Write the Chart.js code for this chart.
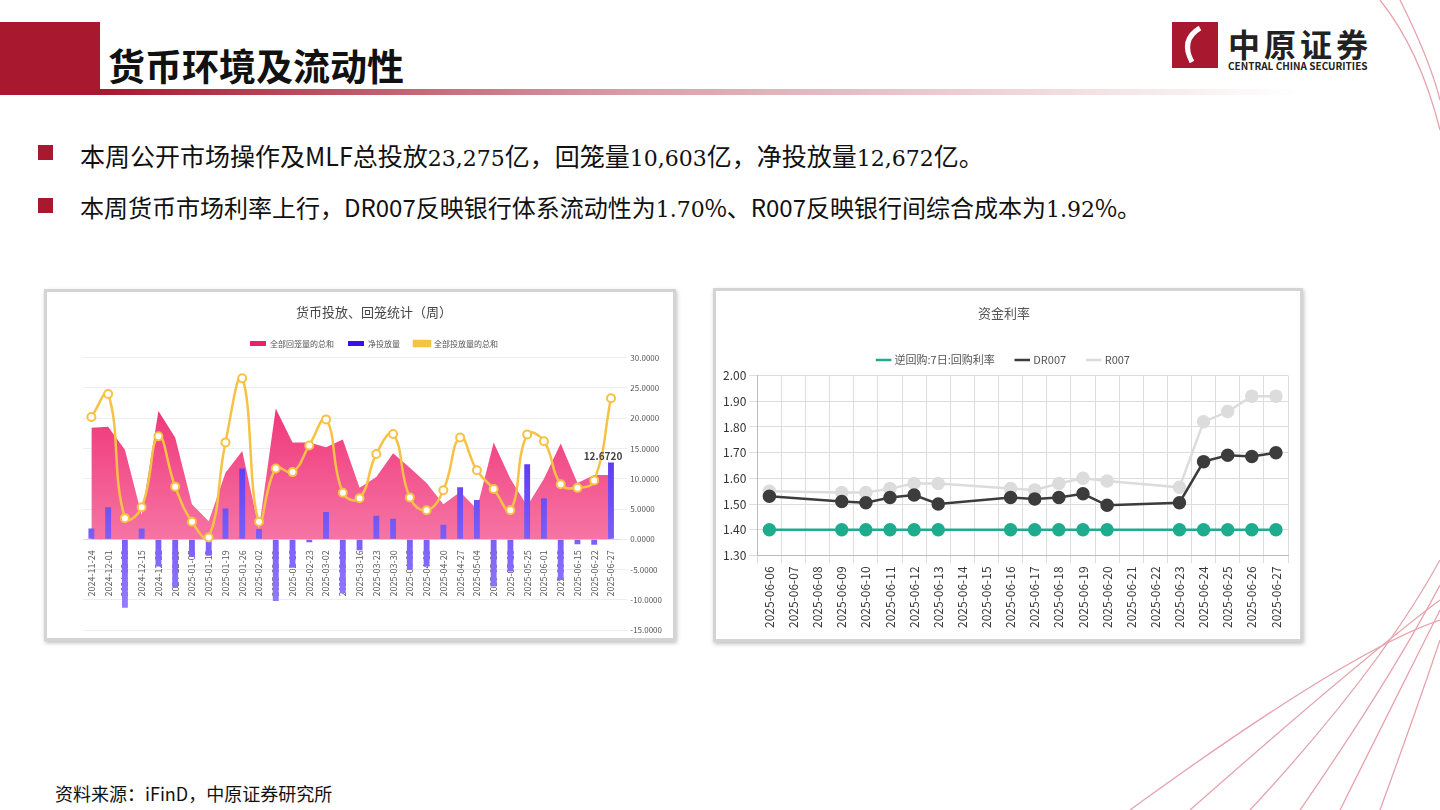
<!DOCTYPE html>
<html><head><meta charset="utf-8">
<script src="https://cdn.jsdelivr.net/npm/chart.js@4.4.1/dist/chart.umd.min.js"></script>
<style>
body{margin:0;width:1440px;height:810px;overflow:hidden;background:#fff;font-family:"Noto Sans CJK SC","Noto Sans",sans-serif;position:relative}
.abs{position:absolute}
.box{position:absolute;background:#fff;border:3px solid #d4d4d4;box-shadow:1px 2px 4px rgba(0,0,0,.25)}
.bul{position:absolute;left:38px;width:15px;height:15px;background:#a8182f}
.txt{position:absolute;left:80px;font-size:25px;color:#111;white-space:nowrap}
.num{font-family:"DejaVu Serif","Liberation Serif",serif;font-size:22px}
</style></head><body>
<svg class="abs" style="left:0;top:0" width="1440" height="810">
 <defs><linearGradient id="ul" x1="0" x2="1"><stop offset="0" stop-color="#a8182f"/><stop offset="0.45" stop-color="#d9a0aa"/><stop offset="1" stop-color="#fff"/></linearGradient></defs>
 <rect x="0" y="22" width="100" height="73" fill="#a8182f"/>
 <rect x="100" y="89" width="1200" height="6" fill="url(#ul)"/>
 <g fill="none" stroke="#e6a3ad" stroke-width="1.3">
  <path d="M1380 810 Q1420 700 1440 640"/><path d="M1340 810 Q1400 690 1440 610"/>
  <path d="M1300 810 Q1390 680 1440 585"/><path d="M1250 810 Q1380 670 1440 560"/>
  <path d="M1190 810 Q1360 660 1440 600"/><path d="M1130 810 Q1350 650 1440 620"/>
  <path d="M1400 0 Q1430 60 1440 100"/><path d="M1380 0 Q1420 50 1440 130"/>
 </g>
 <rect x="1172" y="22" width="46" height="46" fill="#a8182f"/>
 <path d="M1200 28 Q1180 40 1192 62" stroke="#fff" stroke-width="5" fill="none"/>
</svg>
<div class="abs" style="left:108px;top:38px;font-size:37px;font-weight:bold;color:#111">货币环境及流动性</div>
<div class="abs" style="left:1228px;top:20px;font-size:32px;font-weight:bold;color:#222;letter-spacing:4px">中原证券</div>
<div class="abs" style="left:1228px;top:58px;font-size:10px;font-weight:bold;color:#222">CENTRAL CHINA SECURITIES</div>
<div class="bul" style="top:145px"></div>
<div class="txt" style="top:137px">本周公开市场操作及MLF总投放<span class="num">23,275</span>亿，回笼量<span class="num">10,603</span>亿，净投放量<span class="num">12,672</span>亿。</div>
<div class="bul" style="top:198px"></div>
<div class="txt" style="top:189px;font-size:24px">本周货币市场利率上行，DR007反映银行体系流动性为<span class="num">1.70</span>%、R007反映银行间综合成本为<span class="num">1.92</span>%。</div>
<div class="abs" style="left:55px;top:780px;font-size:18px;color:#111">资料来源：iFinD，中原证券研究所</div>

<div class="box" style="left:44px;top:289px;width:626px;height:346px"><canvas id="c1" width="626" height="346"></canvas></div>
<div class="box" style="left:713px;top:288px;width:584px;height:348px"><canvas id="c2" width="584" height="348"></canvas></div>

<script>
var weeks = ['2024-11-24','2024-12-01','2024-12-08','2024-12-15','2024-12-22','2024-12-29','2025-01-05','2025-01-12','2025-01-19','2025-01-26','2025-02-02','2025-02-09','2025-02-16','2025-02-23','2025-03-02','2025-03-09','2025-03-16','2025-03-23','2025-03-30','2025-04-06','2025-04-13','2025-04-20','2025-04-27','2025-05-04','2025-05-11','2025-05-18','2025-05-25','2025-06-01','2025-06-08','2025-06-15','2025-06-22','2025-06-27'];
var withdrawn = [18.4,18.6,14.8,4.0,21.2,16.8,5.8,3.0,11.0,14.6,1.8,21.6,16.0,16.0,15.2,16.5,8.5,10.3,14.2,11.8,9.3,5.8,7.8,5.0,16.0,10.0,5.5,10.0,15.8,9.3,10.6,10.6];
var net = [1.8,5.3,-11.3,1.8,-4.5,-8.0,-2.9,-2.7,5.1,11.7,1.7,-10.2,-4.7,-0.5,4.5,-8.9,-1.8,3.9,3.4,-5.0,-4.5,2.4,8.6,6.5,-7.8,-5.3,12.4,6.8,-6.7,-0.8,-0.9,12.672];
var injected = [20.2,24.0,3.5,5.3,17.0,8.7,2.9,0.3,16.0,26.6,2.9,11.7,11.1,15.5,19.8,7.7,6.8,14.1,17.4,6.9,4.8,8.1,16.8,11.4,8.3,4.8,17.3,16.2,9.1,8.5,9.7,23.3];

var days = ['2025-06-06','2025-06-07','2025-06-08','2025-06-09','2025-06-10','2025-06-11','2025-06-12','2025-06-13','2025-06-14','2025-06-15','2025-06-16','2025-06-17','2025-06-18','2025-06-19','2025-06-20','2025-06-21','2025-06-22','2025-06-23','2025-06-24','2025-06-25','2025-06-26','2025-06-27'];
var repo7d = [1.40,null,null,1.40,1.40,1.40,1.40,1.40,null,null,1.40,1.40,1.40,1.40,1.40,null,null,1.40,1.40,1.40,1.40,1.40];
var dr007 = [1.53,null,null,1.51,1.505,1.525,1.535,1.50,null,null,1.525,1.52,1.525,1.54,1.495,null,null,1.505,1.665,1.69,1.685,1.70];
var r007 = [1.55,null,null,1.545,1.545,1.56,1.58,1.58,null,null,1.56,1.555,1.58,1.60,1.59,null,null,1.565,1.82,1.86,1.92,1.92];

var cjk = '"Noto Sans CJK SC", sans-serif';

function grad(ctx, area, top, bottom) {
  var g = ctx.createLinearGradient(0, area.top, 0, area.bottom);
  g.addColorStop(0, top); g.addColorStop(1, bottom);
  return g;
}

var lastLabel = {
  id: 'lastLabel',
  afterDatasetsDraw: function (chart) {
    var meta = chart.getDatasetMeta(1);
    var p = meta.data[meta.data.length - 1];
    var ctx = chart.ctx;
    ctx.save();
    ctx.font = 'bold 10px ' + cjk;
    ctx.fillStyle = '#444';
    ctx.textAlign = 'center';
    ctx.fillText(net[net.length - 1].toFixed(4), p.x - 8, p.y - 6);
    ctx.restore();
  }
};

new Chart(document.getElementById('c1'), {
  data: {
    labels: weeks,
    datasets: [
      { type: 'line', label: '全部回笼量的总和', data: withdrawn, order: 3, fill: 'origin', tension: 0, pointRadius: 0, borderWidth: 0,
        borderColor: '#f0357a',
        backgroundColor: function (c) { var a = c.chart.chartArea; return a ? grad(c.chart.ctx, a, '#ee1f6a', '#f9a0c0') : '#f0357a'; } },
      { type: 'bar', label: '净投放量', data: net, order: 2, barPercentage: 0.35, categoryPercentage: 1,
        backgroundColor: function (c) { var a = c.chart.chartArea; return a ? grad(c.chart.ctx, a, '#3a10e8', '#9c86ff') : '#4b22f0'; } },
      { type: 'line', label: '全部投放量的总和', data: injected, order: 1, tension: 0.45, borderColor: '#f7c244', borderWidth: 2.5,
        pointRadius: 4, pointBorderWidth: 2, pointBackgroundColor: '#fff', pointBorderColor: '#f7c244', backgroundColor: '#f7c244' }
    ]
  },
  options: {
    responsive: false, animation: false,
    layout: { padding: { left: 36, right: 8, top: 4, bottom: 2 } },
    plugins: {
      title: { display: true, text: '货币投放、回笼统计（周）', color: '#444', font: { family: cjk, size: 13, weight: 'normal' }, padding: { top: 8, bottom: 6 } },
      legend: { labels: { font: { family: cjk, size: 8 }, color: '#555', boxWidth: 16, boxHeight: 5, padding: 14,
        sort: function (a, b) { return a.datasetIndex - b.datasetIndex; } } },
      tooltip: { enabled: false }
    },
    scales: {
      x: { position: { y: 0 }, grid: { display: false }, border: { color: '#ddd' },
        ticks: { font: { family: cjk, size: 9 }, color: '#555', maxRotation: 90, minRotation: 90, autoSkip: false } },
      y: { position: 'right', min: -15, max: 30, grid: { color: '#eee' }, border: { display: false },
        ticks: { stepSize: 5, font: { family: cjk, size: 8 }, color: '#555', callback: function (v) { return v.toFixed(4); } } }
    }
  },
  plugins: [lastLabel]
});

new Chart(document.getElementById('c2'), {
  type: 'line',
  data: {
    labels: days,
    datasets: [
      { label: '逆回购:7日:回购利率', data: repo7d, borderColor: '#1fac8e', backgroundColor: '#1fac8e', borderWidth: 2.5, pointRadius: 5.5, spanGaps: true, order: 1 },
      { label: 'DR007', data: dr007, borderColor: '#3c3c3c', backgroundColor: '#3c3c3c', borderWidth: 2.5, pointRadius: 5.5, spanGaps: true, order: 2 },
      { label: 'R007', data: r007, borderColor: '#dcdcdc', backgroundColor: '#dcdcdc', borderWidth: 2.5, pointRadius: 5.5, spanGaps: true, order: 3 }
    ]
  },
  options: {
    responsive: false, animation: false,
    layout: { padding: { left: 4, right: 12, top: 2, bottom: 8 } },
    plugins: {
      title: { display: true, text: '资金利率', color: '#555', font: { family: cjk, size: 13, weight: 'normal' }, padding: { top: 12, bottom: 12 } },
      legend: { labels: { font: { family: cjk, size: 11 }, color: '#555', usePointStyle: true, pointStyle: 'line', boxWidth: 26, padding: 22 } },
      tooltip: { enabled: false }
    },
    scales: {
      x: { offset: true, grid: { color: '#ddd', offset: true }, border: { color: '#bbb' },
        ticks: { font: { family: cjk, size: 12 }, color: '#333', maxRotation: 90, minRotation: 90, autoSkip: false } },
      y: { min: 1.3, max: 2.0, grid: { color: '#ddd' }, border: { color: '#bbb' },
        ticks: { stepSize: 0.1, font: { family: cjk, size: 12 }, color: '#333', callback: function (v) { return v.toFixed(2); } } }
    }
  }
});
</script>
</body></html>
